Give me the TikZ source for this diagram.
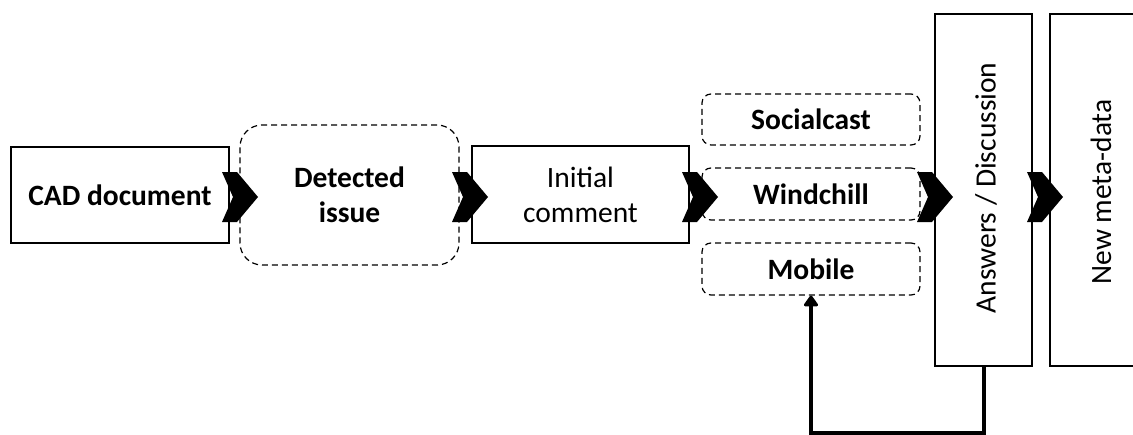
\documentclass[tikz,border=0pt]{standalone}
\usepackage{fontspec}
\setmainfont{Carlito}
\usetikzlibrary{arrows.meta}
\tikzset{
  solidbox/.style={draw, line width=1.3pt, inner sep=2pt, align=center, font=\fontsize{29.5}{35}\selectfont},
  dashbox/.style={draw, dash pattern=on 6pt off 4pt, line width=1.2pt, rounded corners=9pt, inner sep=2pt, align=center, font=\bfseries\fontsize{29.5}{35}\selectfont},
  chevron/.pic={\fill[black] (0,-25) -- (15,-25) -- (36,0) -- (15,25) -- (0,25) -- (11,0) -- cycle;},
  feedback/.style={line width=4pt, -{Triangle[length=12pt,width=16pt,round]}}
}
\begin{document}
\begin{tikzpicture}[x=1pt,y=-1pt]
\useasboundingbox (0,0) rectangle (1133,434);
\clip (0,0) rectangle (1133,434);
\node[solidbox, font=\bfseries\fontsize{29.5}{35}\selectfont, minimum width=218pt, minimum height=96pt] (cad) at (120,195) {CAD document};
\node[dashbox, rounded corners=22pt, minimum width=219pt, minimum height=140pt] (det) at (349.5,195) {Detected\\issue};
\node[solidbox, minimum width=217pt, minimum height=97pt] (ini) at (580.5,194.5) {Initial\\comment};
\node[dashbox, minimum width=218pt, minimum height=51pt] (soc) at (811,119.5) {Socialcast};
\node[dashbox, minimum width=218pt, minimum height=52pt] (win) at (811,194) {Windchill};
\node[dashbox, minimum width=218pt, minimum height=52pt] (mob) at (811,269) {Mobile};
\node[solidbox, minimum width=97pt, minimum height=352pt] (ans) at (983.5,190) {};
\node[rotate=90, font=\fontsize{29.5}{35}\selectfont] (anst) at (986,188) {Answers / Discussion};
\node[solidbox, minimum width=100pt, minimum height=352pt] (nmd) at (1100,190) {};
\node[rotate=90, font=\fontsize{29.5}{35}\selectfont] (nmdt) at (1101,192) {New meta-data};
\pic at (222,197) {chevron};
\pic at (452,197) {chevron};
\pic at (682,197) {chevron};
\pic at (917,197) {chevron};
\pic at (1027,197) {chevron};
\draw[feedback] (ans.south) -- ++(0,66) -| (mob.south);
\end{tikzpicture}
\end{document}
